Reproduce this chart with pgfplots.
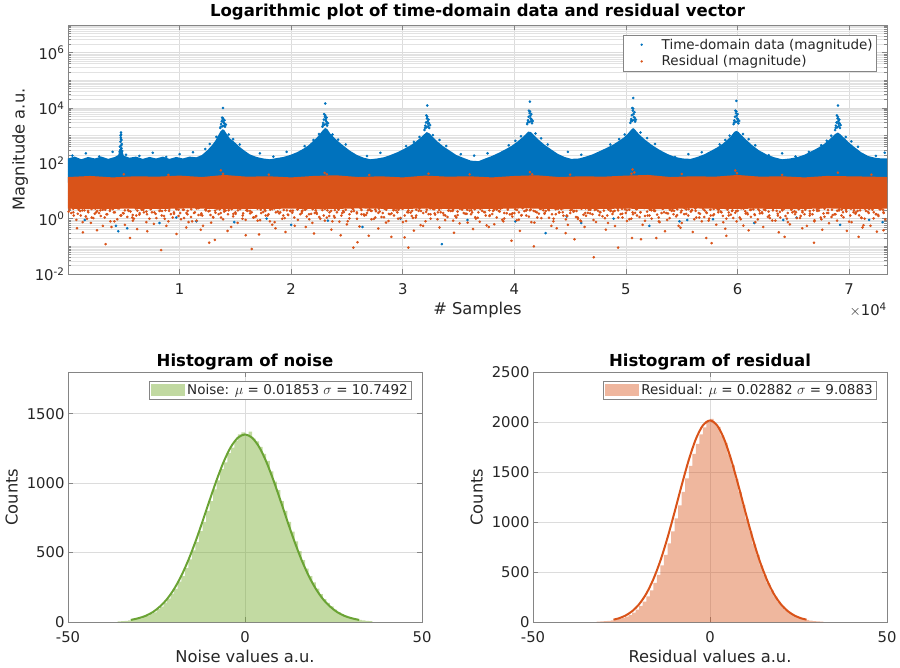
\documentclass[border=0pt]{standalone}
\usepackage{fontspec}
\setmainfont{DejaVu Sans}
\usepackage{pgfplots}
\pgfplotsset{compat=1.18}

\definecolor{mblue}{HTML}{0072BD}
\definecolor{morange}{HTML}{D95319}
\definecolor{mgreen}{HTML}{77AC30}
\definecolor{cgreen}{HTML}{6AA334}
\definecolor{txt}{HTML}{262626}
\definecolor{axgray}{HTML}{858585}
\definecolor{gridmaj}{HTML}{DCDCDC}
\definecolor{gridmin}{HTML}{E2E2E2}

\newcommand\ticksz{\fontsize{14.8}{16}\selectfont}
\newcommand\labsz{\fontsize{16.3}{18}\selectfont}
\newcommand\titsz{\fontsize{16.5}{18}\selectfont\bfseries}
\newcommand\legsz{\fontsize{13.5}{15}\selectfont}

\pgfplotsset{
  matstyle/.style={
    scale only axis, anchor=south west,
    axis line style={axgray, line width=0.8pt},
    tick style={axgray, line width=0.6pt},
    tick align=inside,
    major tick length=5pt, minor tick length=3pt,
    tick label style={font=\ticksz, text=txt},
    xticklabel style={yshift=-6pt},
    label style={font=\labsz, text=txt},
    title style={font=\titsz, text=black},
    major grid style={gridmaj, line width=0.6pt},
    minor grid style={gridmin, line width=0.5pt},
    enlargelimits=false,
  },
  histlegend/.style={
    legend style={at={(1,1)}, anchor=north east, xshift=-10pt, yshift=-9pt,
      draw=axgray, line width=0.6pt, fill=white, font=\legsz, text=txt,
      inner xsep=2pt, inner ysep=1pt},
  },
}

\begin{document}
\begin{tikzpicture}
\useasboundingbox (0,0) rectangle (900pt,667pt);

% ---------------- time-domain data and residual (log scale) ----------------
\begin{axis}[matstyle,
  at={(68pt,393pt)}, width=819pt, height=249pt,
  ymode=log, xmin=0, xmax=73400, ymin=1e-2, ymax=1e7,
  xtick={10000,20000,30000,40000,50000,60000,70000},
  xticklabels={1,2,3,4,5,6,7}, scaled x ticks=false,
  ytick={1e-2,1,1e2,1e4,1e6},
  yticklabels={10\textsuperscript{-2},10\textsuperscript{0},10\textsuperscript{2},10\textsuperscript{4},10\textsuperscript{6}},
  minor ytick={2e-2,3e-2,4e-2,5e-2,6e-2,7e-2,8e-2,9e-2,1e-1,2e-1,3e-1,4e-1,5e-1,6e-1,7e-1,8e-1,9e-1,
    2,3,4,5,6,7,8,9,1e1,2e1,3e1,4e1,5e1,6e1,7e1,8e1,9e1,
    2e2,3e2,4e2,5e2,6e2,7e2,8e2,9e2,1e3,2e3,3e3,4e3,5e3,6e3,7e3,8e3,9e3,
    2e4,3e4,4e4,5e4,6e4,7e4,8e4,9e4,1e5,2e5,3e5,4e5,5e5,6e5,7e5,8e5,9e5,
    2e6,3e6,4e6,5e6,6e6,7e6,8e6,9e6},
  xmajorgrids, ymajorgrids, yminorgrids,
  title={Logarithmic plot of time-domain data and residual vector},
  title style={at={(axis description cs:0.5,1.028)}, anchor=center},
  xlabel={\# Samples},
  xlabel style={at={(axis description cs:0.5,-0.1446)}, anchor=center},
  ylabel={Magnitude a.u.},
  ylabel style={at={(axis description cs:-0.0586,0.5)}, anchor=center},
  legend style={at={(1,1)}, anchor=north east, xshift=-10pt, yshift=-10pt,
    draw=axgray, line width=0.6pt, fill=white, font=\legsz, text=txt,
    inner xsep=2pt, inner ysep=1.5pt, row sep=1pt},
  legend cell align=left,
  extra description/.code={
    \node[anchor=north east, font=\ticksz, text=txt, inner sep=0pt] at (1,-0.115) {$\times$10\textsuperscript{4}};
  },
]
% dense band of the time-domain magnitude (upper envelope, closed below)
\addplot[fill=mblue, draw=none, forget plot] coordinates {
(0,150) (600,175) (1200,140) (1800,170) (2400,150) (3000,175) (3600,145) (4200,170)
(4500,200) (4650,320) (4750,420) (4850,300) (5000,190) (5500,160) (6100,175) (6700,145)
(7300,170) (7900,150) (8500,175) (9100,145) (9700,170) (10300,150) (10900,175) (11500,165)
(12000,200) (12500,300) (12900,450) (13200,650) (13450,1000) (13650,1400) (13850,1700)
(14000,1600) (14200,1200) (14500,800) (14900,600) (15300,420) (15800,290) (16300,210)
(16900,170) (17500,150) (18100,140) (18700,155) (19300,170)
(19900,200) (20500,250) (21000,320) (21500,430) (21900,600) (22300,850) (22600,1200)
(22850,1600) (23050,1900) (23250,1700) (23500,1200) (23850,850) (24300,580) (24800,400)
(25300,280) (25900,200) (26500,160) (27100,140) (27700,150) (28300,165)
(28900,200) (29500,250) (30100,330) (30700,450) (31200,620) (31600,850) (31900,1100)
(32150,1350) (32400,1200) (32700,900) (33100,620) (33600,420) (34200,290) (34800,200)
(35400,160) (36100,125) (36800,120)
(37400,150) (38000,185) (38600,240) (39200,320) (39800,440) (40300,620) (40700,850)
(41000,1100) (41250,1400) (41500,1350) (41800,1000) (42200,700) (42700,470) (43300,320)
(43900,220) (44500,170) (45100,145) (45800,150)
(46400,175) (47000,210) (47600,270) (48200,350) (48800,460) (49300,620) (49800,850)
(50150,1150) (50450,1600) (50650,1900) (50850,1600) (51200,1100) (51700,720) (52300,470)
(53000,310) (53700,220) (54400,170) (55100,150) (55800,145)
(56400,170) (57000,210) (57600,280) (58200,380) (58700,520) (59100,720) (59450,1000)
(59700,1350) (59900,1500) (60100,1350) (60400,1000) (60800,700) (61300,460) (61900,300)
(62600,210) (63300,165) (64000,140) (64700,150)
(65400,170) (66000,205) (66600,270) (67200,360) (67700,480) (68100,650) (68450,880)
(68750,1150) (69000,1300) (69250,1100) (69600,800) (70000,560) (70500,380) (71100,250)
(71700,185) (72300,160) (72900,150) (73400,150) (73400,20) (0,20)
};
% peak clusters, speckle above the band and low outliers
\addplot[only marks, mark=*, mark size=1.1pt, mblue, forget plot] coordinates {
(4650,400) (4700,600) (4730,850) (4760,1100) (4790,700) (4820,500) (4680,300) (4750,1300)
(4710,1000) (4780,450) (4740,750) (4800,350) (4620,260) (4860,280)
(13650,1900) (13720,2600) (13780,3300) (13840,2200) (13900,4200) (13960,2900) (14020,3600)
(14080,2100) (14150,2500) (13700,2100) (13810,4500) (13930,3100) (14050,2700) (13870,3800)
(13990,2300) (13900,10000)
(22800,2100) (22870,2900) (22930,3800) (22990,2500) (23050,5500) (23110,3400) (23170,4500)
(23230,2300) (23300,2800) (22850,2400) (22960,6000) (23080,3900) (23200,3100) (23020,4800)
(23140,2600) (23060,14500)
(31950,1600) (32020,2300) (32080,3000) (32140,2000) (32200,4800) (32260,2700) (32320,3800)
(32380,1900) (32450,2400) (32000,1900) (32110,5400) (32230,3300) (32350,2800) (32170,4200)
(32290,2200) (32200,12300)
(41150,2600) (41220,3600) (41280,4800) (41340,3100) (41400,7500) (41460,4200) (41520,6000)
(41580,2800) (41650,3400) (41200,3000) (41310,8000) (41430,5200) (41550,3900) (41370,6500)
(41490,3300) (41400,17000)
(50400,2900) (50470,4000) (50530,5500) (50590,3500) (50650,9500) (50710,4700) (50770,7000)
(50830,3200) (50900,3800) (50450,3400) (50560,10000) (50680,6000) (50800,4400) (50620,8000)
(50740,3700) (50650,23000)
(59650,2600) (59720,3600) (59780,4800) (59840,3100) (59900,7500) (59960,4200) (60020,6000)
(60080,2800) (60150,3400) (59700,3000) (59810,8000) (59930,5200) (60050,3900) (59870,6500)
(59990,3300) (59900,18000)
(68750,1600) (68820,2300) (68880,3000) (68940,2000) (69000,4800) (69060,2700) (69120,3800)
(69180,1900) (69250,2400) (68800,1900) (68910,5400) (69030,3300) (69150,2800) (68970,4200)
(69090,2200) (69000,12300)
(12300,330) (12700,500) (13300,900) (14400,1100) (14800,750) (15400,480)
(21200,420) (22000,700) (22500,1150) (23700,1100) (24200,720) (24900,480)
(30300,420) (31000,600) (31500,900) (32700,1050) (33300,700) (33900,420)
(39500,450) (40100,650) (40600,950) (41900,1200) (42400,800) (43000,480)
(48600,480) (49400,750) (49900,1100) (51300,1300) (51900,820) (52600,500)
(58400,480) (58900,700) (59300,1000) (60500,1150) (61000,750) (61600,450)
(67500,450) (68000,650) (68400,1000) (69700,900) (70200,620) (70800,400)
(400,190) (1600,230) (2800,175) (4000,260) (5200,205) (6400,185) (7600,240) (8800,170)
(10000,215) (11200,250) (12400,195) (17200,230) (18400,175) (19600,260) (20800,205)
(26800,185) (28000,240) (29200,170) (35200,215) (36400,190) (37600,230) (38800,175)
(44800,260) (46000,205) (47200,185) (53200,240) (54400,170) (55600,215) (56800,250)
(62800,195) (64000,230) (65200,175) (66400,260) (71200,205) (72400,185) (73200,240)
(1500,0.9) (4300,0.55) (4500,0.35) (5300,0.45) (8200,0.7) (9700,1.1) (11500,0.8) (14900,0.75)
(17800,1.0) (20000,0.6) (23300,0.85) (26400,0.5) (29800,1.0) (33500,0.12) (35800,0.9) (40100,0.8)
(42800,0.3) (44700,1.2) (46000,0.7) (48900,1.0) (52100,0.55) (54800,0.8) (55500,0.9) (57800,0.95)
(61500,0.7) (64100,0.9) (65300,1.1) (69200,0.6) (71800,0.9) (73000,0.75)
};
% dense band of the residual magnitude
\addplot[fill=morange, draw=none, forget plot] coordinates {
(0,32) (2000,35) (4000,31) (6000,34) (8000,33) (10000,36) (12000,32) (14000,38) (16000,33)
(18000,34) (20000,31) (22000,35) (24000,37) (26000,32) (28000,34) (30000,31) (32000,36)
(34000,33) (36000,34) (38000,31) (40000,35) (42000,37) (44000,32) (46000,34) (48000,33)
(50000,36) (52000,38) (54000,32) (56000,34) (58000,33) (60000,38) (62000,33) (64000,34)
(66000,31) (68000,35) (70000,34) (72000,33) (73400,32)
(73400,2.3) (71000,2.2) (68000,2.35) (65000,2.2) (62000,2.3) (59000,2.25) (56000,2.35)
(53000,2.2) (50000,2.3) (47000,2.25) (44000,2.2) (41000,2.35) (38000,2.25) (35000,2.2)
(32000,2.3) (29000,2.25) (26000,2.35) (23000,2.2) (20000,2.3) (17000,2.25) (14000,2.2)
(11000,2.35) (8000,2.25) (5000,2.3) (2000,2.2) (0,2.3)
};
\addplot[only marks, mark=*, mark size=1.1pt, morange, forget plot] coordinates {
(300,1.6) (750,0.9) (1100,1.9) (1600,1.2) (2050,0.7) (2400,1.5) (2900,2.0) (3300,1.1) (3800,0.8)
(4200,1.7) (4700,1.3) (5100,0.6) (5600,1.8) (5900,1.0) (6400,1.4) (6800,1.7) (7300,1.0) (7700,0.65)
(8200,1.9) (8600,1.25) (9000,0.8) (9500,1.5) (9900,2.1) (10400,1.05) (10800,0.75) (11300,1.6)
(11700,1.35) (12100,0.55) (12600,1.85) (13000,1.15) (13500,1.45) (13900,0.95) (14400,2.0) (14800,1.2)
(15200,0.7) (15700,1.55) (16100,1.9) (16600,1.1) (17000,0.85) (17500,1.75) (17900,1.3) (18300,0.6)
(18800,1.8) (19200,1.0) (19700,1.4) (20100,1.65) (20600,0.9) (21000,1.95) (21400,1.2) (21900,0.7)
(22300,1.5) (22800,2.05) (23200,1.1) (23700,0.8) (24100,1.7) (24500,1.3) (25000,0.62) (25400,1.8)
(25900,1.0) (26300,1.45) (26800,1.6) (27200,0.95) (27600,1.85) (28100,1.15) (28500,0.72) (29000,1.55)
(29400,2.0) (29800,1.05) (30300,0.82) (30700,1.65) (31200,1.3) (31600,0.58) (32100,1.75) (32500,1.0)
(32900,1.4) (33400,1.7) (33800,0.88) (34300,1.9) (34700,1.25) (35100,0.68) (35600,1.5) (36000,1.95)
(36500,1.12) (36900,0.78) (37300,1.72) (37800,1.32) (38200,0.63) (38700,1.82) (39100,1.02) (39600,1.42)
(40000,1.58) (40400,0.92) (40900,1.88) (41300,1.18) (41800,0.72) (42200,1.52) (42600,2.02) (43100,1.08)
(43500,0.8) (44000,1.68) (44400,1.28) (44800,0.6) (45300,1.78) (45700,0.98) (46200,1.38) (46600,1.62)
(47100,0.9) (47500,1.92) (47900,1.22) (48400,0.7) (48800,1.48) (49300,1.98) (49700,1.1) (50100,0.82)
(50600,1.7) (51000,1.3) (51500,0.6) (51900,1.8) (52300,1.0) (52800,1.4) (53200,1.6) (53700,0.9)
(54100,1.9) (54500,1.2) (55000,0.7) (55400,1.5) (55900,2.0) (56300,1.1) (56800,0.8) (57200,1.7)
(57600,1.3) (58100,0.6) (58500,1.8) (59000,1.0) (59400,1.4) (59800,1.65) (60300,0.95) (60700,1.85)
(61200,1.15) (61600,0.75) (62000,1.55) (62500,2.05) (62900,1.05) (63400,0.85) (63800,1.75) (64300,1.25)
(64700,0.62) (65100,1.85) (65600,1.05) (66000,1.45) (66500,1.55) (66900,0.88) (67300,1.95) (67800,1.18)
(68200,0.68) (68700,1.45) (69100,1.98) (69500,1.12) (70000,0.78) (70400,1.72) (70900,1.32) (71300,0.58)
(71700,1.78) (72200,1.02) (72600,1.38) (73100,1.6)
(520,1.3) (970,2.1) (1320,0.75) (1820,1.7) (2270,1.05) (2620,1.9) (3120,0.55) (3520,1.45) (4020,2.2)
(4420,0.95) (4920,1.6) (5320,1.15) (5820,0.85) (6120,1.3) (6620,2.1) (7020,0.75) (7520,1.7) (7920,1.05)
(8420,1.9) (8820,0.55) (9220,1.45) (9720,2.2) (10120,0.95) (10620,1.6) (11020,1.15) (11520,0.85)
(11920,1.35) (12320,2.15) (12820,0.72) (13220,1.65) (13720,1.1) (14120,1.95) (14620,0.5) (15020,1.5)
(15420,2.2) (15920,0.9) (16320,1.55) (16820,1.2) (17220,0.88) (17720,1.3) (18120,2.1) (18520,0.75)
(19020,1.7) (19420,1.05) (19920,1.9) (20320,0.55) (20820,1.45) (21220,2.2) (21620,0.95) (22120,1.6)
(22520,1.15) (23020,0.85) (23420,1.25) (23920,2.05) (24320,0.78) (24720,1.72) (25220,1.02) (25620,1.88)
(26120,0.52) (26520,1.42) (27020,2.18) (27420,0.98) (27820,1.62) (28320,1.12) (28720,0.82) (29220,1.3)
(29620,2.1) (30020,0.75) (30520,1.7) (30920,1.05) (31420,1.9) (31820,0.55) (32320,1.45) (32720,2.2)
(33120,0.95) (33620,1.6) (34020,1.15) (34520,0.85) (34920,1.35) (35320,2.12) (35820,0.72) (36220,1.68)
(36720,1.08) (37120,1.92) (37520,0.57) (38020,1.48) (38420,2.15) (38920,0.92) (39320,1.58) (39820,1.18)
(40220,0.88) (40620,1.3) (41120,2.1) (41520,0.75) (42020,1.7) (42420,1.05) (42820,1.9) (43320,0.55)
(43720,1.45) (44220,2.2) (44620,0.95) (45020,1.6) (45520,1.15) (45920,0.85) (46420,1.28) (46820,2.08)
(47320,0.76) (47720,1.72) (48120,1.04) (48620,1.88) (49020,0.54) (49520,1.46) (49920,2.18) (50320,0.96)
(50820,1.62) (51220,1.14) (51720,0.84) (52120,1.3) (52520,2.1) (53020,0.75) (53420,1.7) (53920,1.05)
(54320,1.9) (54720,0.55) (55220,1.45) (55620,2.2) (56120,0.95) (56520,1.6) (57020,1.15) (57420,0.85)
(57820,1.32) (58320,2.12) (58720,0.74) (59220,1.68) (59620,1.06) (60020,1.92) (60520,0.56) (60920,1.44)
(61420,2.18) (61820,0.94) (62220,1.58) (62720,1.16) (63120,0.86) (63620,1.3) (64020,2.1) (64520,0.75)
(64920,1.7) (65320,1.05) (65820,1.9) (66220,0.55) (66720,1.45) (67120,2.2) (67520,0.95) (68020,1.6)
(68420,1.15) (68920,0.85) (69320,1.3) (69720,2.1) (70220,0.75) (70620,1.7) (71120,1.05) (71520,1.9)
(71920,0.55) (72420,1.45) (72820,2.2) (73250,0.95)
(150,2.2) (480,1.7) (810,2.4) (1140,1.3) (1470,2.0) (1800,1.9) (2130,1.1) (2460,2.3) (2790,1.6) (3120,2.1) (3450,1.45)
(3780,2.2) (4110,1.7) (4440,2.4) (4770,1.3) (5100,2.0) (5430,1.9) (5760,1.1) (6090,2.3) (6420,1.6) (6750,2.1) (7080,1.45)
(7410,2.2) (7740,1.7) (8070,2.4) (8400,1.3) (8730,2.0) (9060,1.9) (9390,1.1) (9720,2.3) (10050,1.6) (10380,2.1) (10710,1.45)
(11040,2.2) (11370,1.7) (11700,2.4) (12030,1.3) (12360,2.0) (12690,1.9) (13020,1.1) (13350,2.3) (13680,1.6) (14010,2.1) (14340,1.45)
(14670,2.2) (15000,1.7) (15330,2.4) (15660,1.3) (15990,2.0) (16320,1.9) (16650,1.1) (16980,2.3) (17310,1.6) (17640,2.1) (17970,1.45)
(18300,2.2) (18630,1.7) (18960,2.4) (19290,1.3) (19620,2.0) (19950,1.9) (20280,1.1) (20610,2.3) (20940,1.6) (21270,2.1) (21600,1.45)
(21930,2.2) (22260,1.7) (22590,2.4) (22920,1.3) (23250,2.0) (23580,1.9) (23910,1.1) (24240,2.3) (24570,1.6) (24900,2.1) (25230,1.45)
(25560,2.2) (25890,1.7) (26220,2.4) (26550,1.3) (26880,2.0) (27210,1.9) (27540,1.1) (27870,2.3) (28200,1.6) (28530,2.1) (28860,1.45)
(29190,2.2) (29520,1.7) (29850,2.4) (30180,1.3) (30510,2.0) (30840,1.9) (31170,1.1) (31500,2.3) (31830,1.6) (32160,2.1) (32490,1.45)
(32820,2.2) (33150,1.7) (33480,2.4) (33810,1.3) (34140,2.0) (34470,1.9) (34800,1.1) (35130,2.3) (35460,1.6) (35790,2.1) (36120,1.45)
(36450,2.2) (36780,1.7) (37110,2.4) (37440,1.3) (37770,2.0) (38100,1.9) (38430,1.1) (38760,2.3) (39090,1.6) (39420,2.1) (39750,1.45)
(40080,2.2) (40410,1.7) (40740,2.4) (41070,1.3) (41400,2.0) (41730,1.9) (42060,1.1) (42390,2.3) (42720,1.6) (43050,2.1) (43380,1.45)
(43710,2.2) (44040,1.7) (44370,2.4) (44700,1.3) (45030,2.0) (45360,1.9) (45690,1.1) (46020,2.3) (46350,1.6) (46680,2.1) (47010,1.45)
(47340,2.2) (47670,1.7) (48000,2.4) (48330,1.3) (48660,2.0) (48990,1.9) (49320,1.1) (49650,2.3) (49980,1.6) (50310,2.1) (50640,1.45)
(50970,2.2) (51300,1.7) (51630,2.4) (51960,1.3) (52290,2.0) (52620,1.9) (52950,1.1) (53280,2.3) (53610,1.6) (53940,2.1) (54270,1.45)
(54600,2.2) (54930,1.7) (55260,2.4) (55590,1.3) (55920,2.0) (56250,1.9) (56580,1.1) (56910,2.3) (57240,1.6) (57570,2.1) (57900,1.45)
(58230,2.2) (58560,1.7) (58890,2.4) (59220,1.3) (59550,2.0) (59880,1.9) (60210,1.1) (60540,2.3) (60870,1.6) (61200,2.1) (61530,1.45)
(61860,2.2) (62190,1.7) (62520,2.4) (62850,1.3) (63180,2.0) (63510,1.9) (63840,1.1) (64170,2.3) (64500,1.6) (64830,2.1) (65160,1.45)
(65490,2.2) (65820,1.7) (66150,2.4) (66480,1.3) (66810,2.0) (67140,1.9) (67470,1.1) (67800,2.3) (68130,1.6) (68460,2.1) (68790,1.45)
(69120,2.2) (69450,1.7) (69780,2.4) (70110,1.3) (70440,2.0) (70770,1.9) (71100,1.1) (71430,2.3) (71760,1.6) (72090,2.1) (72420,1.45)
(72750,2.2) (73080,1.7)
(60,1.8) (470,2.3) (880,1.5) (1290,2.0) (1700,1.0) (2110,2.25) (2520,1.7) (2930,1.25) (3340,2.1) (3750,1.9) (4160,0.8) (4570,2.35) (4980,1.55) (5390,2.05) (5800,1.35) (6210,1.95) (6620,2.15)
(7030,1.8) (7440,2.3) (7850,1.5) (8260,2.0) (8670,1.0) (9080,2.25) (9490,1.7) (9900,1.25) (10310,2.1) (10720,1.9) (11130,0.8) (11540,2.35) (11950,1.55) (12360,2.05) (12770,1.35) (13180,1.95) (13590,2.15)
(14000,1.8) (14410,2.3) (14820,1.5) (15230,2.0) (15640,1.0) (16050,2.25) (16460,1.7) (16870,1.25) (17280,2.1) (17690,1.9) (18100,0.8) (18510,2.35) (18920,1.55) (19330,2.05) (19740,1.35) (20150,1.95) (20560,2.15)
(20970,1.8) (21380,2.3) (21790,1.5) (22200,2.0) (22610,1.0) (23020,2.25) (23430,1.7) (23840,1.25) (24250,2.1) (24660,1.9) (25070,0.8) (25480,2.35) (25890,1.55) (26300,2.05) (26710,1.35) (27120,1.95) (27530,2.15)
(27940,1.8) (28350,2.3) (28760,1.5) (29170,2.0) (29580,1.0) (29990,2.25) (30400,1.7) (30810,1.25) (31220,2.1) (31630,1.9) (32040,0.8) (32450,2.35) (32860,1.55) (33270,2.05) (33680,1.35) (34090,1.95) (34500,2.15)
(34910,1.8) (35320,2.3) (35730,1.5) (36140,2.0) (36550,1.0) (36960,2.25) (37370,1.7) (37780,1.25) (38190,2.1) (38600,1.9) (39010,0.8) (39420,2.35) (39830,1.55) (40240,2.05) (40650,1.35) (41060,1.95) (41470,2.15)
(41880,1.8) (42290,2.3) (42700,1.5) (43110,2.0) (43520,1.0) (43930,2.25) (44340,1.7) (44750,1.25) (45160,2.1) (45570,1.9) (45980,0.8) (46390,2.35) (46800,1.55) (47210,2.05) (47620,1.35) (48030,1.95) (48440,2.15)
(48850,1.8) (49260,2.3) (49670,1.5) (50080,2.0) (50490,1.0) (50900,2.25) (51310,1.7) (51720,1.25) (52130,2.1) (52540,1.9) (52950,0.8) (53360,2.35) (53770,1.55) (54180,2.05) (54590,1.35) (55000,1.95) (55410,2.15)
(55820,1.8) (56230,2.3) (56640,1.5) (57050,2.0) (57460,1.0) (57870,2.25) (58280,1.7) (58690,1.25) (59100,2.1) (59510,1.9) (59920,0.8) (60330,2.35) (60740,1.55) (61150,2.05) (61560,1.35) (61970,1.95) (62380,2.15)
(62790,1.8) (63200,2.3) (63610,1.5) (64020,2.0) (64430,1.0) (64840,2.25) (65250,1.7) (65660,1.25) (66070,2.1) (66480,1.9) (66890,0.8) (67300,2.35) (67710,1.55) (68120,2.05) (68530,1.35) (68940,1.95) (69350,2.15)
(69760,1.8) (70170,2.3) (70580,1.5) (70990,2.0) (71400,1.0) (71810,2.25) (72220,1.7) (72630,1.25) (73040,2.1)
(1340,0.32) (3370,0.12) (5550,0.2) (8350,0.073) (9730,0.28) (12650,0.135) (13160,0.17) (15930,0.25)
(16470,0.08) (17120,0.27) (22050,0.29) (24440,0.25) (25580,0.09) (25950,0.14) (26950,0.24) (28980,0.22)
(30170,0.21) (30500,0.09) (39750,0.16) (41750,0.1) (45390,0.18) (47120,0.04) (49300,0.09) (50550,0.2)
(51360,0.18) (52730,0.2) (57210,0.2) (57680,0.13) (59000,0.24) (64220,0.22) (66850,0.135) (70850,0.22)
(73090,0.38)
(800,0.45) (2600,0.38) (3900,0.5) (6200,0.42) (7100,0.35) (10600,0.48) (11900,0.4) (14300,0.36)
(18600,0.45) (19500,0.33) (21300,0.5) (23600,0.4) (27800,0.44) (31000,0.37) (33300,0.48) (34600,0.31)
(36300,0.42) (37700,0.5) (40500,0.36) (43800,0.45) (44600,0.3) (46300,0.5) (48200,0.4) (53500,0.35)
(54900,0.47) (56000,0.33) (58900,0.43) (61000,0.38) (62300,0.5) (63700,0.32) (65800,0.45) (67600,0.4)
(69800,0.36) (71200,0.48) (72500,0.34)
(13700,56) (13900,42) (23000,45) (23200,40) (32300,42) (41400,48) (41600,40) (50600,60) (50750,47)
(50500,42) (59800,55) (59950,44) (69000,46) (5000,40) (9000,38) (18000,39) (27000,38) (36000,40)
(45000,39) (55000,41) (64000,38) (72000,39)
};
\addlegendimage{legend image code/.code={\fill[mblue, draw=none] (16pt,0pt) circle (1.3pt); \path[draw=none, fill=none] (0pt,-3pt) rectangle (34pt,3pt);}}
\addlegendentry{Time-domain data (magnitude)}
\addlegendimage{legend image code/.code={\fill[morange, draw=none] (16pt,0pt) circle (1.3pt); \path[draw=none, fill=none] (0pt,-3pt) rectangle (34pt,3pt);}}
\addlegendentry{Residual (magnitude)}
\end{axis}

% ---------------- histogram of the noise ----------------
\begin{axis}[matstyle, histlegend,
  at={(68pt,45pt)}, width=354pt, height=250pt,
  xmin=-50, xmax=50, ymin=0, ymax=1800,
  xtick={-50,0,50}, xticklabels={-50,0,50},
  ytick={0,500,1000,1500}, yticklabels={0,500,1000,1500},
  xmajorgrids, ymajorgrids,
  title={Histogram of noise},
  title style={at={(axis description cs:0.5,1.016)}, anchor=center},
  xlabel={Noise values a.u.},
  xlabel style={at={(axis description cs:0.5,-0.136)}, anchor=center},
  ylabel={Counts},
  ylabel style={at={(axis description cs:-0.159,0.5)}, anchor=center},
]
\addplot[const plot, fill=mgreen, fill opacity=0.45, draw=none, forget plot] coordinates {
(-36,5) (-35,7) (-34,9) (-33,12) (-32,15) (-31,20) (-30,26) (-29,35) (-28,44) (-27,58)
(-26,70) (-25,92) (-24,110) (-23,140) (-22,168) (-21,205) (-20,238) (-19,290) (-18,330)
(-17,390) (-16,450) (-15,515) (-14,575) (-13,655) (-12,720) (-11,800) (-10,870) (-9,955)
(-8,1020) (-7,1100) (-6,1150) (-5,1215) (-4,1255) (-3,1305) (-2,1350) (-1,1365) (0,1340)
(1,1370) (2,1320) (3,1300) (4,1260) (5,1210) (6,1160) (7,1085) (8,1010) (9,950) (10,870)
(11,800) (12,720) (13,650) (14,580) (15,510) (16,445) (17,385) (18,330) (19,285) (20,240)
(21,200) (22,165) (23,138) (24,112) (25,90) (26,72) (27,57) (28,45) (29,35) (30,27)
(31,21) (32,16) (33,12) (34,9) (35,7) (36,7)
} \closedcycle;
\addplot[cgreen, line width=2pt, smooth, forget plot] coordinates {
(-32.25,15) (-30,28) (-28,45) (-26,72) (-24,112) (-22,166) (-20,239) (-18,332) (-16,446)
(-14,578) (-12,724) (-10,876) (-8,1023) (-6,1155) (-4,1260) (-2,1327) (0,1350)
(2,1327) (4,1260) (6,1155) (8,1023) (10,876) (12,724) (14,578) (16,446) (18,332)
(20,239) (22,166) (24,112) (26,72) (28,45) (30,28) (32.25,15)
};
\addlegendimage{legend image code/.code={\fill[mgreen, fill opacity=0.45, draw=none] (0pt,-6pt) rectangle (34pt,6pt);}}
\addlegendentry{Noise: $\mu$ = 0.01853 $\sigma$ = 10.7492}
\end{axis}

% ---------------- histogram of the residual ----------------
\begin{axis}[matstyle, histlegend,
  at={(533pt,45pt)}, width=354pt, height=250pt,
  xmin=-50, xmax=50, ymin=0, ymax=2500,
  xtick={-50,0,50}, xticklabels={-50,0,50},
  ytick={0,500,1000,1500,2000,2500}, yticklabels={0,500,1000,1500,2000,2500},
  xmajorgrids, ymajorgrids,
  title={Histogram of residual},
  title style={at={(axis description cs:0.5,1.016)}, anchor=center},
  xlabel={Residual values a.u.},
  xlabel style={at={(axis description cs:0.5,-0.136)}, anchor=center},
  ylabel={Counts},
  ylabel style={at={(axis description cs:-0.159,0.5)}, anchor=center},
]
\addplot[const plot, fill=morange, fill opacity=0.42, draw=none, forget plot] coordinates {
(-32,4) (-31,6) (-30,8) (-29,11) (-28,16) (-27,22) (-26,30) (-25,40) (-24,53) (-23,72)
(-22,95) (-21,123) (-20,160) (-19,203) (-18,255) (-17,317) (-16,390) (-15,470) (-14,565)
(-13,670) (-12,785) (-11,905) (-10,1035) (-9,1165) (-8,1300) (-7,1435) (-6,1560) (-5,1680)
(-4,1780) (-3,1875) (-2,1945) (-1,2000) (0,2030) (1,1985) (2,1950) (3,1865) (4,1790)
(5,1675) (6,1565) (7,1430) (8,1300) (9,1170) (10,1030) (11,905) (12,780) (13,670) (14,565)
(15,470) (16,388) (17,316) (18,254) (19,202) (20,158) (21,123) (22,94) (23,71) (24,53)
(25,39) (26,29) (27,21) (28,15) (29,10) (30,7) (31,5) (32,5)
} \closedcycle;
\addplot[morange, line width=2pt, smooth, forget plot] coordinates {
(-27.27,24) (-26,34) (-24,62) (-22,108) (-20,179) (-18,283) (-16,428) (-14,615) (-12,843)
(-10,1100) (-8,1368) (-6,1620) (-4,1829) (-2,1967) (0,2015) (2,1967) (4,1829) (6,1620)
(8,1368) (10,1100) (12,843) (14,615) (16,428) (18,283) (20,179) (22,108) (24,62) (26,34)
(27.27,24)
};
\addlegendimage{legend image code/.code={\fill[morange, fill opacity=0.42, draw=none] (0pt,-6pt) rectangle (34pt,6pt);}}
\addlegendentry{Residual: $\mu$ = 0.02882 $\sigma$ = 9.0883}
\end{axis}
\end{tikzpicture}
\end{document}
